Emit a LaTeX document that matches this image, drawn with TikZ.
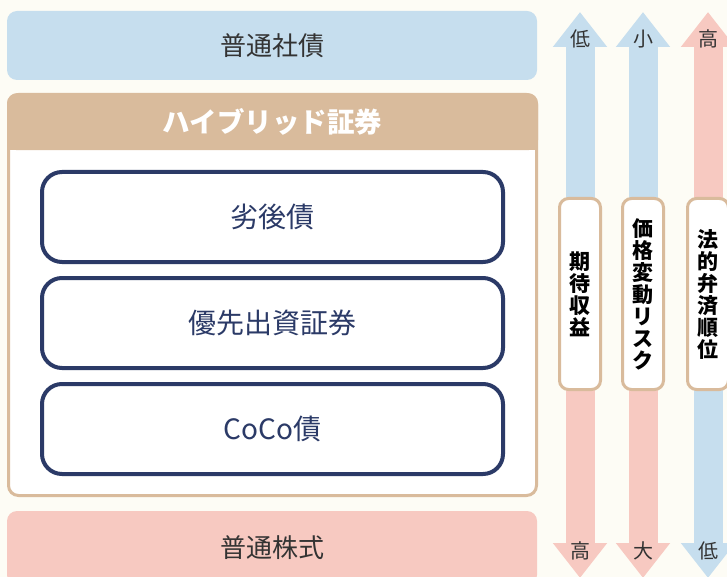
\documentclass[tikz,border=0pt]{standalone}
\usepackage{fontspec}
\setmainfont{Noto Sans CJK JP}
\usepackage{tikz}
\usetikzlibrary{positioning, arrows.meta, calc}
\definecolor{bondblue}{HTML}{C6DEEE}
\definecolor{stockpink}{HTML}{F7C9C1}
\definecolor{tanbrown}{HTML}{D9BB9C}
\definecolor{navy}{HTML}{2B3A67}
\definecolor{cream}{HTML}{FDFCF5}
\definecolor{ink}{HTML}{333333}
\tikzstyle{layer}=[%
      rectangle, rounded corners=10pt, draw=none, text=ink,
      minimum width=530pt, minimum height=69pt, inner sep=0pt,
      font=\fontsize{26}{26}\selectfont
]
\tikzstyle{sub}=[%
      rectangle, rounded corners=20pt, draw=navy, line width=4pt, fill=white, text=navy,
      minimum width=461pt, minimum height=90pt, inner sep=0pt,
      font=\fontsize{28}{28}\selectfont
]
\tikzstyle{lab}=[%
      rectangle, rounded corners=9pt, draw=tanbrown, line width=3pt, fill=white,
      minimum width=41pt, minimum height=191pt, inner sep=0pt, align=center,
      font=\bfseries\fontsize{21}{22}\selectfont
]
\tikzstyle{bar}=[%
      line width=29pt, -{Triangle[width=52pt,length=35pt]}
]
\tikzstyle{tipnum}=[%
      text=ink, inner sep=0pt, font=\fontsize{20}{20}\selectfont
]

\begin{document}
\begin{tikzpicture}[x=1pt, y=-1pt]
    \fill[cream] (0,0) rectangle (727,577);
    \useasboundingbox (0,0) rectangle (727,577);

    % layers on the left
    \node[layer, fill=bondblue] (bond) at (272,45.5) {普通社債};
    \node[rectangle, rounded corners=10pt, draw=tanbrown, line width=3pt, fill=white,
          minimum width=528pt, minimum height=401pt] (hybrid) at (272.5,295) {};
    \node[rectangle, rounded corners=10pt, fill=tanbrown, minimum width=531pt,
          minimum height=57pt, anchor=north] (head) at (hybrid.north) {};
    \fill[tanbrown] (head.west) rectangle (head.south east);
    \node[text=white, font=\bfseries\fontsize{27.5}{27.5}\selectfont] (headtxt) at (head) {ハイブリッド証券};

    \node[sub] (sub1) at (272.5,217) {劣後債};
    \node[sub] (sub2) [below = 12pt of sub1] {優先出資証券};
    \node[sub] (sub3) [below = 12pt of sub2] {CoCo債};

    \node[layer, fill=stockpink, minimum height=74pt] (stock) at (272,548) {普通株式};

    % arrows on the right
    \coordinate (m1) at (580,294);
    \coordinate (m2) at (643,294);
    \coordinate (m3) at (708,294);
    \coordinate (t1) at (580,12);
    \coordinate (t2) at (643,12);
    \coordinate (t3) at (708,12);
    \coordinate (b1) at (580,578);
    \coordinate (b2) at (643,578);
    \coordinate (b3) at (708,578);

    \draw[bar, bondblue]  (m1) -- (t1);
    \draw[bar, stockpink] (m1) -- (b1);
    \draw[bar, bondblue]  (m2) -- (t2);
    \draw[bar, stockpink] (m2) -- (b2);
    \draw[bar, stockpink] (m3) -- (t3);
    \draw[bar, bondblue]  (m3) -- (b3);

    \node[lab] (ret)  at (m1) {期\\待\\収\\益};
    \node[lab] (risk) at (m2) {価\\格\\変\\動\\リ\\ス\\ク};
    \node[lab] (rank) at (m3) {法\\的\\弁\\済\\順\\位};

    \node[tipnum] (ret top)  at (580,39) {低};
    \node[tipnum] (risk top) at (643,39) {小};
    \node[tipnum] (rank top) at (708,39) {高};
    \node[tipnum] (ret bot)  at (580,551) {高};
    \node[tipnum] (risk bot) at (643,551) {大};
    \node[tipnum] (rank bot) at (708,551) {低};
\end{tikzpicture}
\end{document}
